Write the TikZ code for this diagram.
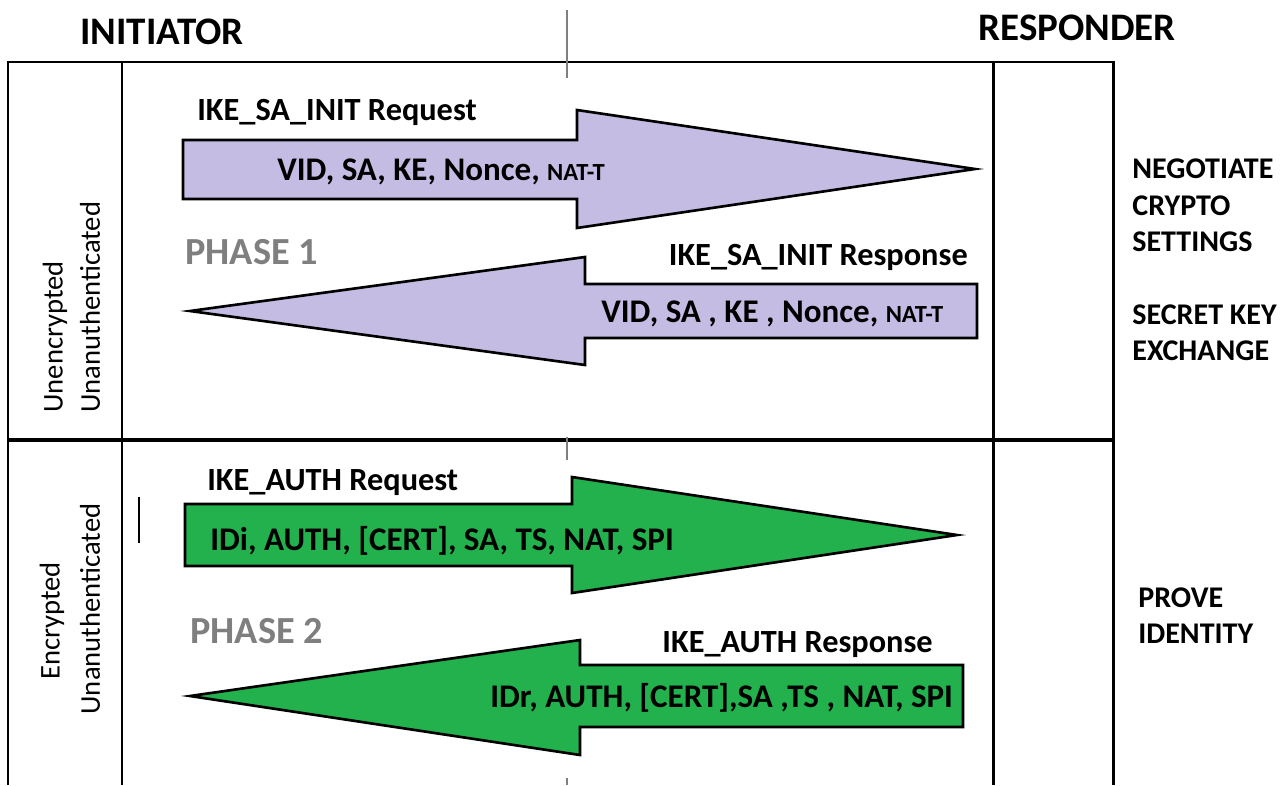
\documentclass[tikz,border=0pt]{standalone}
\usepackage{fontspec}
\setmainfont{Carlito}
\usepackage{tikz}
\definecolor{lav}{RGB}{197,188,227}
\definecolor{grn}{RGB}{34,177,76}
\definecolor{phgray}{RGB}{127,127,127}
\tikzstyle{every node}=[inner sep=0pt]
\tikzstyle{frame}=[black,line width=1.7pt]
\tikzstyle{tick}=[color=phgray,line width=1.2pt]
\tikzstyle{ikearrow}=[draw=black,line width=1.5pt,line join=miter]
\tikzstyle{party}=[font=\fontsize{22.2}{26}\selectfont\bfseries,anchor=base west]
\tikzstyle{msg}=[font=\fontsize{18.4}{22}\selectfont\bfseries]
\tikzstyle{load}=[font=\fontsize{18.8}{22}\selectfont\bfseries,anchor=base west]
\tikzstyle{phase}=[font=\fontsize{21.8}{26}\selectfont\bfseries,text=phgray,anchor=base west]
\tikzstyle{goal}=[font=\fontsize{17.1}{20}\selectfont\bfseries,anchor=base west]
\tikzstyle{state}=[font=\fontsize{16.3}{19}\selectfont,rotate=90]
\newcommand{\natt}{{\fontsize{14}{16}\selectfont NAT-T}}

\begin{document}
\begin{tikzpicture}[x=0.02cm,y=-0.02cm]
\useasboundingbox (0,0) rectangle (1284,785);
\draw[frame] (8,785)--(8,62)--(1113,62)--(1113,785);
\draw[frame] (122,62)--(122,785);
\draw[frame] (993,62)--(993,785);
\draw[black,line width=2.8pt] (8,440)--(1113,440);
\draw[tick] (567,10)--(567,78);
\draw[tick] (567,437)--(567,460);
\draw[tick] (567,778)--(567,785);
\draw[black,line width=1.2pt] (139,497)--(139,543);
\draw (80,44) node (init)[party]{INITIATOR};
\draw (978,40) node (resp)[party]{RESPONDER};
\draw (55,413) node (unenc)[state,anchor=west]{Unencrypted};
\draw (90,413) node (unauth1)[state,anchor=west]{Unanuthenticated};
\draw (52,621) node (enc)[state]{Encrypted};
\draw (90,609) node (unauth2)[state]{Unanuthenticated};
\draw[ikearrow,fill=lav] (183,140)--(577,140)--(577,110)--(975,169)--(577,228)--(577,199)--(183,199)--cycle;
\draw[ikearrow,fill=lav] (190,311)--(585,257)--(585,284)--(977,284)--(977,338)--(585,338)--(585,365)--cycle;
\draw[ikearrow,fill=grn] (185,504)--(572,504)--(572,477)--(957,535)--(572,593)--(572,566)--(185,566)--cycle;
\draw[ikearrow,fill=grn] (190,696)--(580,640)--(580,665)--(963,665)--(963,727)--(580,727)--(580,755)--cycle;
\draw (197,120) node (initreq)[msg,anchor=base west]{IKE\_SA\_INIT Request};
\draw (277,180) node (initreqload)[load]{VID, SA, KE, Nonce, \natt};
\draw (185,264) node (ph1)[phase]{PHASE 1};
\draw (968,265) node (initresp)[msg,anchor=base east]{IKE\_SA\_INIT Response};
\draw (601,322) node (initrespload)[load]{VID, SA , KE , Nonce, \natt};
\draw (207,490) node (authreq)[msg,anchor=base west]{IKE\_AUTH Request};
\draw (210,550) node (authreqload)[load]{IDi, AUTH, [CERT], SA, TS, NAT, SPI};
\draw (190,643) node (ph2)[phase]{PHASE 2};
\draw (933,652) node (authresp)[msg,anchor=base east]{IKE\_AUTH Response};
\draw (490,707) node (authrespload)[load]{IDr, AUTH, [CERT],SA ,TS , NAT, SPI};
\draw (1132,178) node (neg)[goal]{NEGOTIATE};
\draw (1132,215) node (crypto)[goal]{CRYPTO};
\draw (1132,251) node (sett)[goal]{SETTINGS};
\draw (1132,324) node (secret)[goal]{SECRET KEY};
\draw (1132,360) node (exch)[goal]{EXCHANGE};
\draw (1138,607) node (prove)[goal]{PROVE};
\draw (1138,643) node (ident)[goal]{IDENTITY};
\end{tikzpicture}
\end{document}
